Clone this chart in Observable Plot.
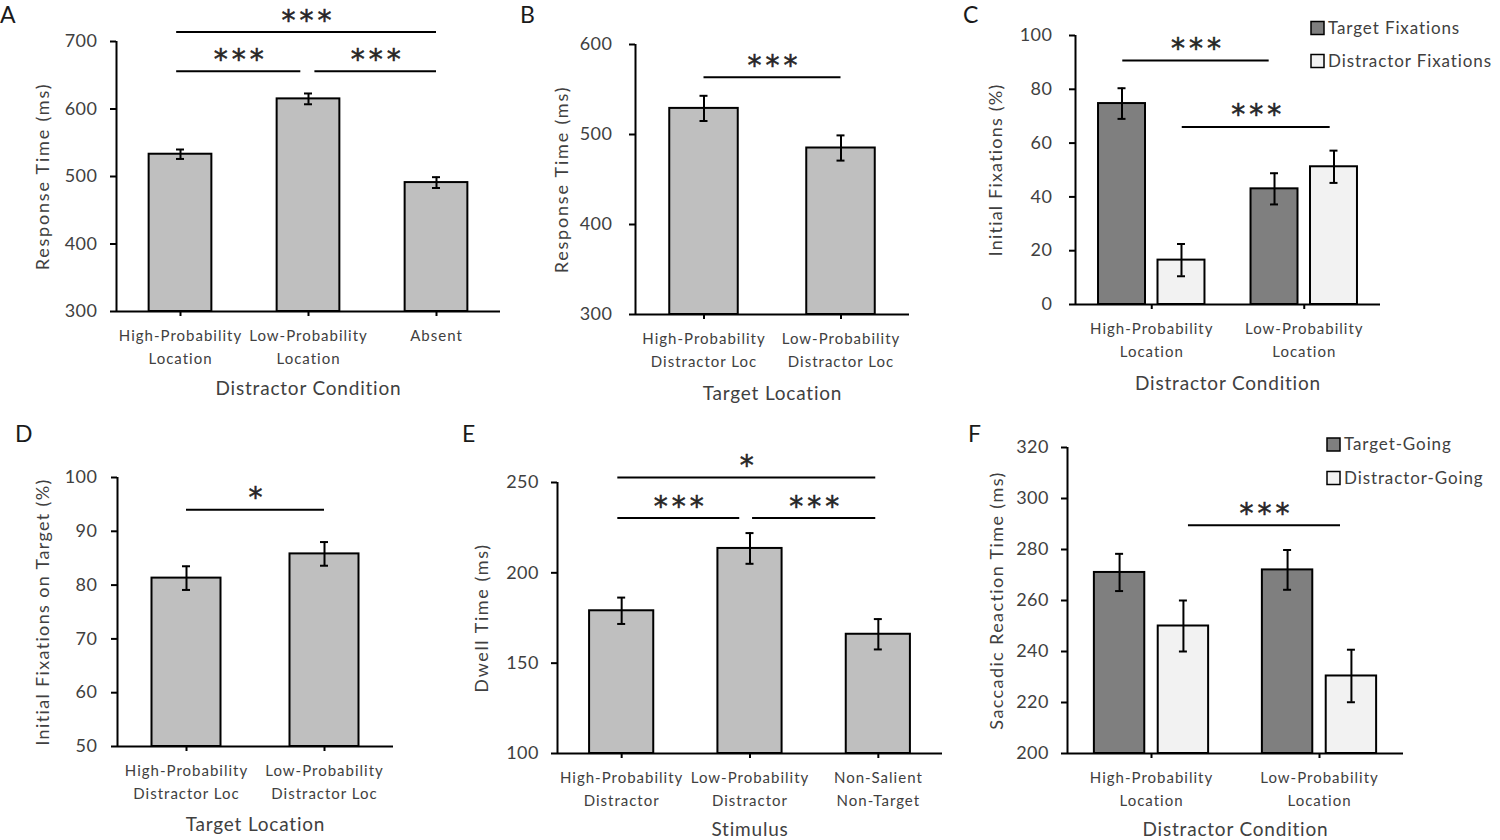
<!DOCTYPE html>
<html><head><meta charset="utf-8">
<script src="https://cdn.jsdelivr.net/npm/d3@7"></script>
<script src="https://cdn.jsdelivr.net/npm/@observablehq/plot@0.6"></script>
<style>
html,body{margin:0;padding:0;background:#fff;}
#page{position:relative;width:1500px;height:840px;overflow:hidden;background:#fff;font-family:Lato,"Open Sans",sans-serif;}
#page > svg{position:absolute;}
</style></head><body><div id="page"></div>
<script>
// ---------------- DATA ----------------
// Panel A
const catsA = ["High-Probability\nLocation", "Low-Probability\nLocation", "Absent"];
const rtA = [533, 615, 491];
const errA = [7, 8, 8];
const ticksA = [300, 400, 500, 600, 700];
// Panel B
const catsB = ["High-Probability\nDistractor Loc", "Low-Probability\nDistractor Loc"];
const rtB = [529, 485];
const errB = [14, 14];
const ticksB = [300, 400, 500, 600];
// Panel C
const groupsC = ["High-Probability\nLocation", "Low-Probability\nLocation"];
const seriesC = ["Target Fixations", "Distractor Fixations"];
const targetC = [74.7, 43.0];
const targetErrC = [5.7, 5.8];
const distractorC = [16.5, 51.2];
const distractorErrC = [6.0, 6.0];
const ticksC = [0, 20, 40, 60, 80, 100];
// Panel D
const catsD = ["High-Probability\nDistractor Loc", "Low-Probability\nDistractor Loc"];
const fixD = [81.3, 85.8];
const errD = [2.2, 2.2];
const ticksD = [50, 60, 70, 80, 90, 100];
// Panel E
const catsE = ["High-Probability\nDistractor", "Low-Probability\nDistractor", "Non-Salient\nNon-Target"];
const dwellE = [179, 213.5, 166];
const errE = [7.3, 8.5, 8.4];
const ticksE = [100, 150, 200, 250];
// Panel F
const groupsF = ["High-Probability\nLocation", "Low-Probability\nLocation"];
const seriesF = ["Target-Going", "Distractor-Going"];
const targetF = [271, 272];
const targetErrF = [7.3, 7.8];
const distractorF = [250, 230.4];
const distractorErrF = [10, 10.3];
const ticksF = [200, 220, 240, 260, 280, 300, 320];

// Significance comparisons (x in category-index units, level in data units)
const sigA = [{x1: -0.03, x2: 2.0, level: 714, label: "***"}, {x1: -0.03, x2: 0.94, level: 656, label: "***"}, {x1: 1.05, x2: 2.0, level: 656, label: "***"}];
const sigB = [{x1: 0, x2: 1, level: 563.5, label: "***"}];
const sigC = [{x1: -0.19, x2: 0.77, level: 90.7, label: "***"}, {x1: 0.2, x2: 1.17, level: 66, label: "***"}];
const sigD = [{x1: 0, x2: 1, level: 94, label: "*"}];
const sigE = [{x1: -0.03, x2: 1.98, level: 252.8, label: "*"}, {x1: -0.03, x2: 0.92, level: 230.3, label: "***"}, {x1: 1.02, x2: 1.98, level: 230.3, label: "***"}];
const sigF = [{x1: 0.22, x2: 1.125, level: 289.5, label: "***"}];

// ---------------- STYLE ----------------
const FONT = "Lato";
const INK = "#404040";
const BAR = "#bfbfbf";
const DARK = "#7f7f7f";
const LIGHT = "#f2f2f2";

function single(values, errs) {
  return values.map((v, i) => ({x: i, v, e: errs[i], fill: BAR}));
}
function grouped(a, aErr, b, bErr, off) {
  const rows = [];
  a.forEach((v, i) => rows.push({x: i - off, v, e: aErr[i], fill: DARK}));
  b.forEach((v, i) => rows.push({x: i + off, v, e: bErr[i], fill: LIGHT}));
  return rows;
}

function panel(c) {
  const n = c.labels.length;
  const fw = c.width - c.mL - c.mR;
  const cap = 4 / (fw / n);
  const y0 = c.yDomain[0];
  const chart = Plot.plot({
    width: c.width, height: c.height,
    marginLeft: c.mL, marginRight: c.mR, marginTop: c.mT, marginBottom: c.mB,
    x: {type: "linear", domain: [-0.5, n - 0.5]},
    y: {domain: c.yDomain},
    color: {type: "identity"},
    style: {fontFamily: FONT, color: INK, background: "transparent", overflow: "visible"},
    marks: [
      Plot.rect(c.bars, {x1: d => d.x - c.hw, x2: d => d.x + c.hw, y1: () => y0, y2: "v", fill: "fill", stroke: "black", strokeWidth: 2}),
      Plot.ruleX(c.bars, {x: "x", y1: d => d.v - d.e, y2: d => d.v + d.e, stroke: "black", strokeWidth: 2}),
      Plot.ruleY(c.bars, {y: d => d.v + d.e, x1: d => d.x - cap, x2: d => d.x + cap, stroke: "black", strokeWidth: 2}),
      Plot.ruleY(c.bars, {y: d => d.v - d.e, x1: d => d.x - cap, x2: d => d.x + cap, stroke: "black", strokeWidth: 2}),
      Plot.ruleX([-0.5], {stroke: "black", strokeWidth: 2}),
      Plot.ruleY([y0], {stroke: "black", strokeWidth: 2}),
      Plot.axisY({ticks: c.yTicks, tickSize: 6, tickPadding: c.tp, stroke: "black", strokeWidth: 2, fill: INK, fontSize: 18, label: null, tickFormat: d => String(d)}),
      Plot.axisX({ticks: d3.range(n), tickSize: 5, tickPadding: 9, stroke: "black", strokeWidth: 2, fill: INK, fontSize: 15, lineHeight: 1.5, label: null, tickFormat: i => c.labels[i]}),
      Plot.ruleY(c.sig, {y: "level", x1: "x1", x2: "x2", stroke: "black", strokeWidth: 2}),
      Plot.text(c.sig, {x: d => (d.x1 + d.x2) / 2, y: "level", text: "label", dy: -11.5, dx: 2, fontSize: 28, fontFamily: "DejaVu Sans", fill: "#262626"}),
      Plot.text([c.yTitle], {text: d => d, frameAnchor: "left", textAnchor: "middle", rotate: -90, dx: c.yTitleDx, fontSize: 18, fill: INK}),
      Plot.text([c.xTitle], {text: d => d, frameAnchor: "bottom", lineAnchor: "middle", dy: c.xTitleDy, fontSize: 19, fill: INK})
    ]
  });
  const s = d3.select(chart);
  s.selectAll('g[aria-label="x-axis tick label"]').attr("letter-spacing", "1px");
  s.selectAll('g[aria-label="y-axis tick label"]').attr("letter-spacing", "0.5px");
  s.selectAll("text").each(function() {
    const t = this.textContent;
    if (/^\*+$/.test(t)) { this.setAttribute("letter-spacing", "4px"); this.setAttribute("stroke", "#262626"); this.setAttribute("stroke-width", "0.5"); }
    else if (t === c.yTitle) this.setAttribute("letter-spacing", c.ySp + "px");
    else if (t === c.xTitle) this.setAttribute("letter-spacing", "0.8px");
  });
  chart.style.left = c.left + "px";
  chart.style.top = c.top + "px";
  document.getElementById("page").appendChild(chart);
}

panel({left: 0, top: 0, width: 500, height: 410, mL: 116, mR: 0, mT: 41, mB: 99,
  yDomain: [300, 700], yTicks: ticksA, labels: catsA, bars: single(rtA, errA), hw: 0.245, tp: 13,
  sig: sigA, yTitle: "Response Time (ms)", yTitleDx: -73, ySp: 1.8, xTitle: "Distractor Condition", xTitleDy: 77});
panel({left: 500, top: 0, width: 480, height: 410, mL: 135, mR: 71, mT: 44, mB: 96,
  yDomain: [300, 600], yTicks: ticksB, labels: catsB, bars: single(rtB, errB), hw: 0.25, tp: 17,
  sig: sigB, yTitle: "Response Time (ms)", yTitleDx: -73, ySp: 1.8, xTitle: "Target Location", xTitleDy: 79});
panel({left: 980, top: 0, width: 520, height: 410, mL: 95, mR: 120, mT: 35, mB: 106,
  yDomain: [0, 100], yTicks: ticksC, labels: groupsC, bars: grouped(targetC, targetErrC, distractorC, distractorErrC, 0.195), hw: 0.154, tp: 17,
  sig: sigC, yTitle: "Initial Fixations (%)", yTitleDx: -79, ySp: 1.2, xTitle: "Distractor Condition", xTitleDy: 79});
panel({left: 0, top: 410, width: 460, height: 430, mL: 117, mR: 67, mT: 67, mB: 94,
  yDomain: [50, 100], yTicks: ticksD, labels: catsD, bars: single(fixD, errD), hw: 0.25, tp: 14,
  sig: sigD, yTitle: "Initial Fixations on Target (%)", yTitleDx: -74, ySp: 1.35, xTitle: "Target Location", xTitleDy: 78});
panel({left: 460, top: 410, width: 500, height: 430, mL: 97, mR: 18, mT: 72, mB: 87,
  yDomain: [100, 250], yTicks: ticksE, labels: catsE, bars: single(dwellE, errE), hw: 0.25, tp: 12.5,
  sig: sigE, yTitle: "Dwell Time (ms)", yTitleDx: -75, ySp: 1.6, xTitle: "Stimulus", xTitleDy: 76});
panel({left: 960, top: 410, width: 540, height: 430, mL: 107, mR: 97, mT: 37, mB: 87,
  yDomain: [200, 320], yTicks: ticksF, labels: groupsF, bars: grouped(targetF, targetErrF, distractorF, distractorErrF, 0.19), hw: 0.15, tp: 12.5,
  sig: sigF, yTitle: "Saccadic Reaction Time (ms)", yTitleDx: -70, ySp: 1.4, xTitle: "Distractor Condition", xTitleDy: 76});

// ---------------- Letters & legends ----------------
const ov = d3.select("#page").append("svg").attr("width", 1500).attr("height", 840)
  .style("left", "0px").style("top", "0px").style("pointer-events", "none")
  .style("font-family", FONT);
const letters = [["A", 0, 23], ["B", 520, 23], ["C", 963, 23], ["D", 15, 442], ["E", 462, 442], ["F", 968, 442]];
ov.selectAll("text.letter").data(letters).join("text").attr("class", "letter")
  .attr("x", d => d[1]).attr("y", d => d[2]).attr("font-size", 23).attr("fill", "#1a1a1a").text(d => d[0]);
function legend(names, x, y, gap) {
  const g = ov.append("g");
  names.forEach((name, i) => {
    g.append("rect").attr("x", x).attr("y", y + i * gap).attr("width", 13).attr("height", 13)
      .attr("fill", i === 0 ? DARK : LIGHT).attr("stroke", "black").attr("stroke-width", 1.5);
    g.append("text").attr("x", x + 17).attr("y", y + i * gap + 12).attr("font-size", 17)
      .attr("letter-spacing", "0.9px").attr("fill", INK).text(name);
  });
}
legend(seriesC, 1311, 21.5, 33);
legend(seriesF, 1327, 438, 33.5);
</script></body></html>
